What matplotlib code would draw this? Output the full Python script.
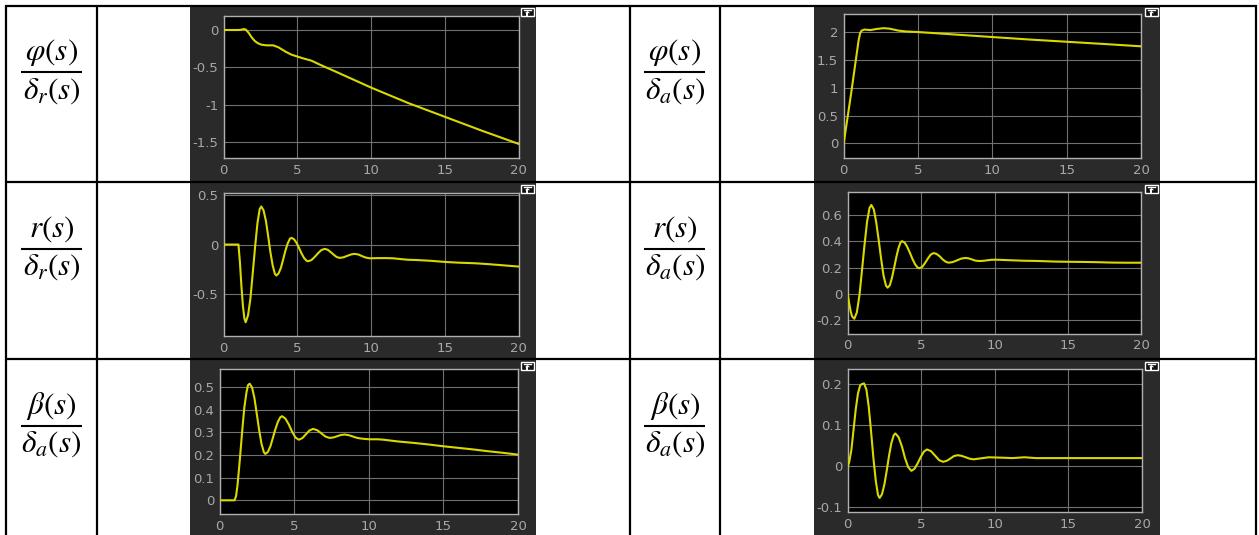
import matplotlib
matplotlib.use("Agg")
import matplotlib.pyplot as plt
from matplotlib.patches import Rectangle, Polygon
from matplotlib.ticker import FixedLocator, FuncFormatter

plt.rcParams["axes.unicode_minus"] = False
plt.rcParams["mathtext.fontset"] = "stix"

# ---------------------------------------------------------------- data
x_ticks = [0, 5, 10, 15, 20]

# roll angle / rudder
t_phi_dr = [0, 1.0, 1.2, 1.36, 1.5, 1.7, 1.9, 2.1, 2.3, 2.55, 2.9, 3.35, 3.7,
            3.95, 4.2, 4.6, 5.0, 5.4, 5.95, 6.6, 7.75, 10, 12.5, 15, 17.5, 20]
phi_dr = [0, 0, 0.004, 0.013, 0.005, -0.04, -0.1, -0.145, -0.175, -0.196,
          -0.205, -0.205, -0.23, -0.26, -0.29, -0.33, -0.355, -0.38, -0.41,
          -0.47, -0.57, -0.77, -0.975, -1.16, -1.345, -1.522]
yt_phi_dr = [-1.5, -1, -0.5, 0]

# roll angle / aileron
t_phi_da = [0, 0.5, 1.0, 1.1, 1.2, 1.4, 1.8, 2.2, 2.7, 3.1, 3.7, 4.2, 5,
            7.5, 10, 12.5, 15, 17.5, 20]
phi_da = [0, 0.9, 1.85, 1.98, 2.03, 2.05, 2.04, 2.06, 2.075, 2.065, 2.03,
          2.015, 2.005, 1.96, 1.915, 1.87, 1.83, 1.79, 1.748]
yt_phi_da = [0, 0.5, 1, 1.5, 2]

# yaw rate / rudder
t_r_dr = [0, 1.0, 1.1, 1.2, 1.3, 1.4, 1.49, 1.65, 1.81, 1.97, 2.13, 2.29,
          2.44, 2.55, 2.70, 2.86, 3.01, 3.16, 3.32, 3.47, 3.57, 3.72, 3.88,
          4.03, 4.18, 4.34, 4.49, 4.59, 4.76, 4.93, 5.10, 5.27, 5.44, 5.61,
          5.72, 5.95, 6.17, 6.40, 6.62, 6.85, 7.05, 7.25, 7.46, 7.66, 7.86,
          8.12, 8.37, 8.63, 8.88, 9.13, 9.38, 9.64, 9.9, 10.5, 11, 11.5, 12,
          12.5, 13, 14, 15, 16, 17, 18, 19, 20]
r_dr = [0, 0, -0.18, -0.42, -0.62, -0.75, -0.79, -0.72, -0.55, -0.29,
        -0.02, 0.22, 0.36, 0.387, 0.349, 0.242, 0.091, -0.072, -0.212,
        -0.298, -0.315, -0.294, -0.236, -0.153, -0.064, 0.012, 0.059, 0.068,
        0.055, 0.019, -0.032, -0.088, -0.135, -0.164, -0.17, -0.158, -0.126,
        -0.088, -0.056, -0.044, -0.053, -0.076, -0.104, -0.127, -0.136,
        -0.130, -0.1155, -0.101, -0.095, -0.101, -0.118, -0.133, -0.14,
        -0.138, -0.138, -0.14, -0.148, -0.155, -0.157, -0.165, -0.177,
        -0.185, -0.19, -0.2, -0.212, -0.224]
yt_r_dr = [-0.5, 0, 0.5]

# yaw rate / aileron
t_r_da = [0, 0.1, 0.2, 0.3, 0.45, 0.62, 0.80, 0.97, 1.15, 1.32, 1.49, 1.61,
          1.78, 1.94, 2.11, 2.28, 2.44, 2.61, 2.72, 2.87, 3.01, 3.16, 3.31,
          3.46, 3.60, 3.70, 3.88, 4.05, 4.23, 4.41, 4.59, 4.76, 4.88, 5.08,
          5.27, 5.47, 5.66, 5.86, 6.06, 6.27, 6.47, 6.68, 6.88, 7.16, 7.45,
          7.73, 8.01, 8.24, 8.47, 8.69, 8.92, 9.2, 9.5, 9.77, 10.06, 11, 12,
          13, 14, 15, 16, 17, 18, 19, 20]
r_da = [0, -0.07, -0.13, -0.17, -0.187, -0.14, -0.01, 0.176, 0.377, 0.548,
        0.653, 0.674, 0.640, 0.545, 0.410, 0.264, 0.140, 0.063, 0.048, 0.067,
        0.121, 0.197, 0.278, 0.348, 0.391, 0.40, 0.389, 0.358, 0.314, 0.266,
        0.225, 0.200, 0.195, 0.206, 0.235, 0.270, 0.299, 0.31, 0.303, 0.285,
        0.262, 0.244, 0.237, 0.242, 0.255, 0.268, 0.273, 0.270, 0.2615,
        0.253, 0.25, 0.251, 0.255, 0.259, 0.26, 0.256, 0.252, 0.250, 0.246,
        0.244, 0.243, 0.241, 0.238, 0.237, 0.237]
yt_r_da = [-0.2, 0, 0.2, 0.4, 0.6]

# sideslip / aileron (left column)
t_beta_da1 = [0, 1.0, 1.1, 1.2, 1.35, 1.5, 1.65, 1.8, 1.9, 2.01, 2.17, 2.33,
              2.48, 2.64, 2.80, 2.96, 3.06, 3.23, 3.40, 3.56, 3.73, 3.90,
              4.07, 4.18, 4.40, 4.63, 4.85, 5.08, 5.30, 5.54, 5.78, 6.02,
              6.26, 6.54, 6.82, 7.09, 7.37, 7.62, 7.88, 8.13, 8.38, 8.66,
              8.94, 9.22, 9.5, 10, 10.6, 11, 12, 13, 14, 15, 16, 17, 18, 19,
              20]
beta_da1 = [0, 0, 0.02, 0.07, 0.18, 0.30, 0.41, 0.48, 0.51, 0.516, 0.499,
            0.452, 0.385, 0.313, 0.251, 0.213, 0.205, 0.214, 0.239, 0.275,
            0.314, 0.347, 0.368, 0.372, 0.362, 0.336, 0.304, 0.278, 0.268,
            0.275, 0.292, 0.309, 0.316, 0.310, 0.296, 0.282, 0.276, 0.278,
            0.2835, 0.289, 0.291, 0.288, 0.282, 0.276, 0.273, 0.27, 0.27,
            0.268, 0.26, 0.254, 0.247, 0.239, 0.232, 0.225, 0.217, 0.21,
            0.202]
yt_beta_da1 = [0, 0.1, 0.2, 0.3, 0.4, 0.5]

# sideslip / aileron (right column)
t_beta_da2 = [0, 0.1, 0.25, 0.4, 0.55, 0.7, 0.85, 0.95, 1.11, 1.27, 1.43,
              1.59, 1.75, 1.91, 2.06, 2.17, 2.33, 2.49, 2.65, 2.81, 2.97,
              3.13, 3.24, 3.46, 3.68, 3.89, 4.11, 4.33, 4.54, 4.75, 4.97,
              5.18, 5.39, 5.66, 5.94, 6.21, 6.48, 6.73, 6.98, 7.22, 7.47,
              7.74, 8.02, 8.29, 8.56, 9.07, 9.58, 10.5, 11.2, 12, 12.8, 14, 20]
beta_da2 = [0, 0.01, 0.04, 0.09, 0.14, 0.178, 0.197, 0.2, 0.202, 0.187,
            0.145, 0.084, 0.019, -0.036, -0.070, -0.077, -0.068, -0.045,
            -0.011, 0.026, 0.057, 0.076, 0.08, 0.071, 0.049, 0.0205, -0.002,
            -0.011, -0.006, 0.007, 0.023, 0.036, 0.041, 0.037, 0.026, 0.015,
            0.011, 0.0134, 0.019, 0.025, 0.027, 0.0255, 0.022, 0.0185, 0.017,
            0.0195, 0.022, 0.021, 0.02, 0.022, 0.02, 0.02, 0.02]
yt_beta_da2 = [-0.1, 0, 0.1, 0.2]

# ---------------------------------------------------------------- layout
W, H = 1259, 535
PANEL = "#2a2a2a"
AX_EDGE = "#b0b0b0"
GRID = "#707070"
TICK = "#a8a8a8"
TRACE = "#d9d900"

fig = plt.figure(figsize=(W / 100, H / 100), dpi=100)
fig.patch.set_facecolor("white")
bg = fig.add_axes([0, 0, 1, 1])
bg.set_xlim(0, W)
bg.set_ylim(H, 0)
bg.axis("off")

row_tops = [5.5, 182, 359]
col_lines = [6, 97, 630, 720, 1256]

# scope panels: (panel box, axes box) in pixels  (left, top, right, bottom)
scopes = [
    ((190, 6, 536, 182), (223.7, 16, 518.7, 158.3), t_phi_dr, phi_dr,
     yt_phi_dr, (-1.714, 0.187)),
    ((814, 6, 1160, 182), (843.7, 14, 1141, 158), t_phi_da, phi_da,
     yt_phi_da, (-0.264, 2.33)),
    ((190, 183, 536, 359), (223.7, 193, 518.7, 336), t_r_dr, r_dr,
     yt_r_dr, (-0.93, 0.524)),
    ((814, 183, 1160, 359), (847.7, 192, 1141.3, 333.7), t_r_da, r_da,
     yt_r_da, (-0.30, 0.772)),
    ((190, 360, 536, 535), (219.7, 369, 518, 514.3), t_beta_da1, beta_da1,
     yt_beta_da1, (-0.062, 0.581)),
    ((814, 360, 1160, 535), (847.7, 369, 1142, 512.3), t_beta_da2, beta_da2,
     yt_beta_da2, (-0.112, 0.237)),
]

fmt = FuncFormatter(lambda v, _: f"{v:g}")

for (pl, pt, pr, pb), (al, at, ar, ab), t, y, yt, ylim in scopes:
    bg.add_patch(Rectangle((pl, pt), pr - pl, pb - pt, facecolor=PANEL,
                           edgecolor="none", zorder=1))
    # expand/undock icon in the panel corner
    il, it_, iw, ih = pr - 15, pt + 2, 13, 8
    bg.add_patch(Rectangle((il, it_), iw, ih, facecolor="#111111",
                           edgecolor="white", lw=1.0, zorder=2))
    bg.plot([il + 3, il + iw - 3], [it_ + 2, it_ + 2], color="white",
            lw=1.0, zorder=3)
    cx = il + iw / 2
    bg.add_patch(Polygon([(cx - 2.5, it_ + 5.2), (cx + 2.5, it_ + 5.2),
                          (cx, it_ + 3.0)], closed=True, facecolor="white",
                         edgecolor="none", zorder=3))
    bg.plot([cx, cx], [it_ + 5, it_ + 7], color="white", lw=1.4, zorder=3)

    ax = fig.add_axes([al / W, 1 - ab / H, (ar - al) / W, (ab - at) / H])
    ax.set_facecolor("black")
    ax.plot(t, y, color=TRACE, lw=1.5, solid_joinstyle="round", zorder=3)
    ax.set_xlim(0, 20)
    ax.set_ylim(*ylim)
    ax.xaxis.set_major_locator(FixedLocator(x_ticks))
    ax.yaxis.set_major_locator(FixedLocator(yt))
    ax.xaxis.set_major_formatter(fmt)
    ax.yaxis.set_major_formatter(fmt)
    ax.grid(True, color=GRID, lw=0.8)
    ax.set_axisbelow(True)
    for s in ax.spines.values():
        s.set_color(AX_EDGE)
        s.set_linewidth(1.0)
    ax.tick_params(axis="both", length=0, colors=TICK, labelsize=9.5)
    ax.tick_params(axis="x", pad=4)
    ax.tick_params(axis="y", pad=4)
    for lab in ax.get_xticklabels() + ax.get_yticklabels():
        lab.set_family("DejaVu Sans")

# table rules
for yv in row_tops:
    bg.plot([5, 1257], [yv, yv], color="black", lw=1.6, zorder=5,
            solid_capstyle="butt")
for xv in col_lines:
    bg.plot([xv, xv], [4.7, H], color="black", lw=1.6, zorder=5,
            solid_capstyle="butt")

# transfer-function labels
labels = [
    (r"$\varphi(s)$", r"$\delta_r(s)$"),
    (r"$\varphi(s)$", r"$\delta_a(s)$"),
    (r"$r(s)$", r"$\delta_r(s)$"),
    (r"$r(s)$", r"$\delta_a(s)$"),
    (r"$\beta(s)$", r"$\delta_a(s)$"),
    (r"$\beta(s)$", r"$\delta_a(s)$"),
]
centers = [51.5, 675]
bar_half = 30.5
for i, (num, den) in enumerate(labels):
    row, col = divmod(i, 2)
    cx = centers[col]
    by = row_tops[row] + 66.5
    bg.plot([cx - bar_half, cx + bar_half], [by, by], color="black",
            lw=1.5, zorder=5, solid_capstyle="butt")
    bg.text(cx, by - 4, num, ha="center", va="bottom", fontsize=22.5,
            color="black", zorder=5)
    bg.text(cx, by + 4, den, ha="center", va="top", fontsize=22.5,
            color="black", zorder=5)

fig.savefig("out.png", dpi=100, facecolor="white")
